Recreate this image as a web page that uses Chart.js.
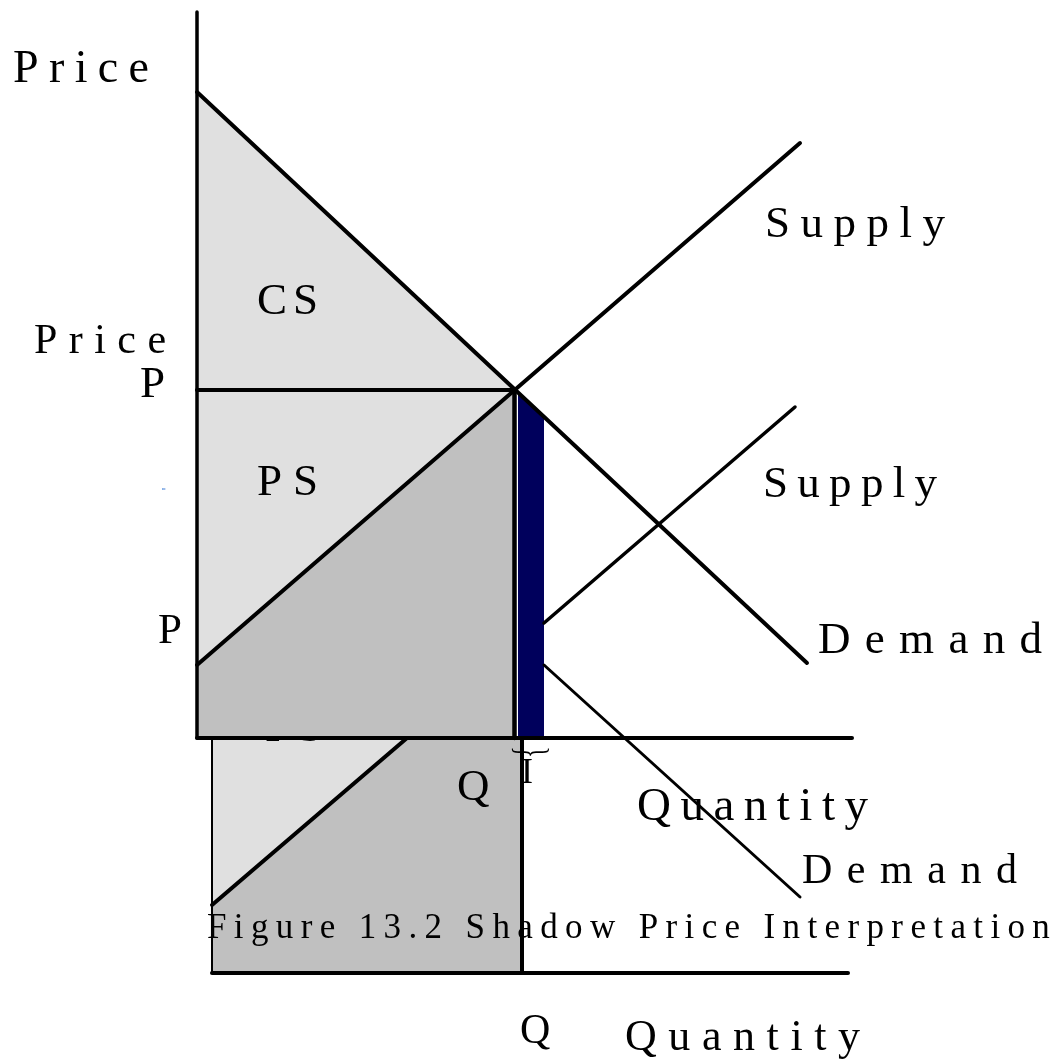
<!DOCTYPE html>
<html>
<head>
<meta charset="utf-8">
<script src="https://cdn.jsdelivr.net/npm/chart.js@4.4.0/dist/chart.umd.min.js"></script>
<style>
  html, body { margin: 0; padding: 0; background: #ffffff; }
  #wrap { width: 1060px; height: 1063px; position: relative; }
</style>
</head>
<body>
<div id="wrap"><canvas id="chart"></canvas></div>
<script>
// ---------- data (quantity, price) ----------
// main panel
const priceAxis       = [[0, 72.6], [0, 0]];
const quantityAxis    = [[0, 0], [65.5, 0]];
const demand          = [[0, 64.6], [61.0, 7.5]];
const supply          = [[0, 7.3], [60.3, 59.5]];
const priceLine       = [[0, 34.8], [31.75, 34.8]];
const quantityLine    = [[31.75, 34.8], [31.75, 0]];
const consumerSurplus = [[0, 64.6], [31.75, 34.8], [0, 34.8], [0, 64.6]];
const producerSurplus = [[0, 34.8], [31.75, 34.8], [0, 7.3], [0, 34.8]];
const producerCost    = [[0, 7.3], [31.75, 34.8], [31.75, 0], [0, 0], [0, 7.3]];
const shadowBar       = [[32.1, 34.55], [34.7, 32.1], [34.7, 0], [32.1, 0], [32.1, 34.55]];
const supplyShifted   = [[34.7, 11.5], [59.8, 33.1]];
const demandBelow     = [[34.7, 7.3], [60.3, -15.9]];
const blueTick        = [[-3.5, 24.9], [-3.2, 24.9]];
// second (offset) panel
const panel2PriceAxis    = [[1.5, 0], [1.5, -23.5]];
const panel2QuantityAxis = [[1.5, -23.5], [65.1, -23.5]];
const panel2QuantityLine = [[32.5, 0], [32.5, -23.5]];
const panel2Supply       = [[1.5, -16.7], [21.0, 0]];
const panel2Surplus      = [[1.5, 0], [21.0, 0], [1.5, -16.7], [1.5, 0]];
const panel2Cost         = [[1.5, -16.7], [21.0, 0], [32.5, 0], [32.5, -23.5], [1.5, -23.5], [1.5, -16.7]];

// ---------- text labels (anchored in data units) ----------
const textLabels = [
  {text: 'Price', x: -18.4, y: 65.6, span: 13.6, size: 46},
  {text: 'Supply', x: 56.8, y: 50.1, span: 18.0, size: 45},
  {text: 'CS', x: 6.0, y: 42.4, span: 6.1, size: 45},
  {text: 'Price', x: -16.3, y: 38.5, span: 13.2, size: 42},
  {text: 'P', x: -5.7, y: 34.1, size: 45},
  {text: 'PS', x: 6.0, y: 24.3, span: 6.1, size: 45},
  {text: 'Supply', x: 56.6, y: 24.1, span: 17.4, size: 45},
  {text: 'P', x: -3.9, y: 9.5, size: 43},
  {text: 'Demand', x: 62.1, y: 8.5, span: 22.4, size: 45},
  {text: 'Q', x: 26.0, y: -6.2, size: 45},
  {text: 'I', x: 32.4, y: -4.5, size: 36},
  {text: 'Quantity', x: 44.0, y: -8.2, span: 23.1, size: 47},
  {text: 'Demand', x: 60.5, y: -14.5, span: 21.5, size: 42},
  {text: 'Figure 13.2 Shadow Price Interpretation', x: 1.0, y: -20.0, span: 84.3, size: 35},
  {text: 'Q', x: 32.3, y: -30.5, size: 42},
  {text: 'Quantity', x: 42.8, y: -31.2, span: 23.5, size: 44}
];
const hiddenLabels = [{text: 'PS', x: 6.8, y: -0.3, span: 5.8, size: 45}];
const braceLabel = {text: '}', x: 33.3, y: -1.4, size: 44};

const FONT = "'Liberation Serif', 'Times New Roman', serif";

function pts(a) { return a.map(p => ({x: p[0], y: p[1]})); }

function lineDs(name, arr, width, color) {
  return {label: name, data: pts(arr), showLine: true, pointRadius: 0, pointHoverRadius: 0,
          borderColor: color || '#000000', borderWidth: width, borderCapStyle: 'round',
          borderJoinStyle: 'round', fill: false, clip: false, tension: 0};
}
function shapeDs(name, arr, color) {
  return {label: name, data: pts(arr), showLine: true, pointRadius: 0, pointHoverRadius: 0,
          borderColor: 'rgba(0,0,0,0)', borderWidth: 1, backgroundColor: color,
          fill: 'shape', clip: false, tension: 0};
}

// drawing order: first = bottom, last = top
const layers = [
  shapeDs('panel2Surplus', panel2Surplus, '#e0e0e0'),
  shapeDs('panel2Cost', panel2Cost, '#c0c0c0'),
  lineDs('panel2Supply', panel2Supply, 4),
  lineDs('panel2PriceAxis', panel2PriceAxis, 2),
  lineDs('panel2QuantityLine', panel2QuantityLine, 4),
  lineDs('panel2QuantityAxis', panel2QuantityAxis, 4),
  shapeDs('consumerSurplus', consumerSurplus, '#e0e0e0'),
  shapeDs('producerSurplus', producerSurplus, '#e0e0e0'),
  shapeDs('producerCost', producerCost, '#c0c0c0'),
  shapeDs('shadowBar', shadowBar, '#00005c'),
  lineDs('priceLine', priceLine, 4),
  lineDs('quantityLine', quantityLine, 4.5),
  lineDs('priceAxis', priceAxis, 3.5),
  lineDs('quantityAxis', quantityAxis, 4),
  lineDs('demand', demand, 4),
  lineDs('supply', supply, 4),
  lineDs('supplyShifted', supplyShifted, 3.5),
  lineDs('demandBelow', demandBelow, 3),
  lineDs('blueTick', blueTick, 1, '#3a7bd5')
];
layers.forEach((d, i) => { d.order = layers.length - i; });

function drawLabel(chart, lab) {
  const ctx = chart.ctx;
  const xs = chart.scales.x, ys = chart.scales.y;
  const px = xs.getPixelForValue(lab.x);
  const py = ys.getPixelForValue(lab.y);
  ctx.save();
  ctx.font = lab.size + 'px ' + FONT;
  ctx.fillStyle = '#000000';
  ctx.textAlign = 'left';
  ctx.textBaseline = 'alphabetic';
  let spacing = 0;
  const n = lab.text.length;
  if (lab.span && n > 1) {
    if ('letterSpacing' in ctx) ctx.letterSpacing = '0px';
    const w0 = ctx.measureText(lab.text).width;
    const target = xs.getPixelForValue(lab.x + lab.span) - px;
    spacing = Math.max(0, (target - w0) / (n - 1));
  }
  if (spacing > 0 && 'letterSpacing' in ctx) {
    ctx.letterSpacing = spacing.toFixed(2) + 'px';
    ctx.fillText(lab.text, px, py);
  } else if (spacing > 0) {
    let cx = px;
    for (const ch of lab.text) { ctx.fillText(ch, cx, py); cx += ctx.measureText(ch).width + spacing; }
  } else {
    ctx.fillText(lab.text, px, py);
  }
  ctx.restore();
}

function drawBrace(chart, lab) {
  const ctx = chart.ctx;
  const px = chart.scales.x.getPixelForValue(lab.x);
  const py = chart.scales.y.getPixelForValue(lab.y);
  ctx.save();
  ctx.translate(px, py);
  ctx.rotate(Math.PI / 2);
  ctx.scale(0.55, 1);
  ctx.font = lab.size + 'px ' + FONT;
  ctx.fillStyle = '#000000';
  ctx.textAlign = 'center';
  ctx.textBaseline = 'middle';
  ctx.fillText(lab.text, 0, 0);
  ctx.restore();
}

const labelPlugin = {
  id: 'figureLabels',
  afterDatasetDraw(chart, args) {
    const ds = chart.data.datasets[args.index];
    if (ds && ds.label === 'panel2Cost') hiddenLabels.forEach(l => drawLabel(chart, l));
  },
  afterDatasetsDraw(chart) {
    textLabels.forEach(l => drawLabel(chart, l));
    drawBrace(chart, braceLabel);
  }
};

new Chart(document.getElementById('chart'), {
  type: 'scatter',
  data: {datasets: layers},
  options: {
    responsive: true,
    maintainAspectRatio: false,
    animation: false,
    events: [],
    layout: {padding: 0},
    plugins: {legend: {display: false}, tooltip: {enabled: false}, title: {display: false}},
    scales: {
      x: {type: 'linear', display: false, min: -19.7, max: 86.3},
      y: {type: 'linear', display: false, min: -32.5, max: 73.8}
    }
  },
  plugins: [labelPlugin]
});
</script>
</body>
</html>
